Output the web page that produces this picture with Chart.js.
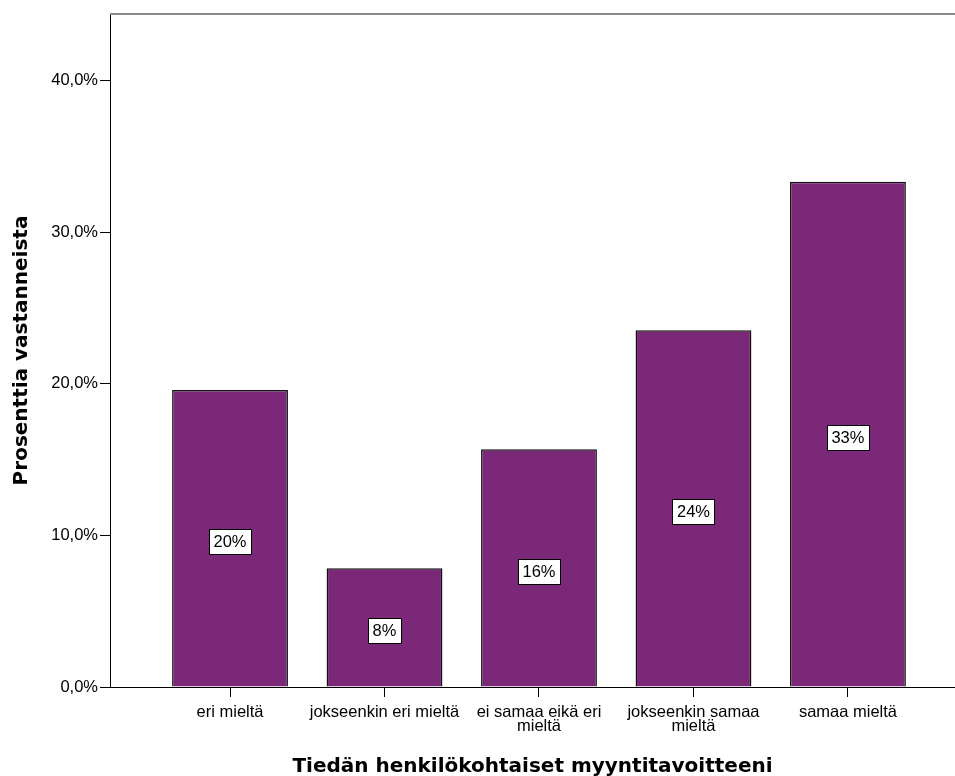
<!DOCTYPE html>
<html>
<head>
<meta charset="utf-8">
<script src="https://cdn.jsdelivr.net/npm/chart.js@4"></script>
<style>
  html, body { margin: 0; padding: 0; background: #fff; }
  #wrap { width: 955px; height: 776px; }
</style>
</head>
<body>
<div id="wrap"><canvas id="c" width="955" height="776"></canvas></div>
<script>
const categories = ['eri mieltä', 'jokseenkin eri mieltä', 'ei samaa eikä eri mieltä', 'jokseenkin samaa mieltä', 'samaa mieltä'];
const xTickLabels = [['eri mieltä'], ['jokseenkin eri mieltä'], ['ei samaa eikä eri', 'mieltä'], ['jokseenkin samaa', 'mieltä'], ['samaa mieltä']];
const percentValues = [19.6, 7.84, 15.69, 23.53, 33.33];
const yTickValues = [0, 10, 20, 30, 40];
const xTitle = 'Tiedän henkilökohtaiset myyntitavoitteeni';
const yTitle = 'Prosenttia vastanneista';

const points = percentValues.map((v, i) => ({ x: i, y: v }));

const labelPlugin = {
  id: 'barLabels',
  afterDatasetsDraw(chart) {
    const ctx = chart.ctx;
    const meta = chart.getDatasetMeta(0);
    ctx.save();
    ctx.font = '16.5px "Liberation Sans", Arial, sans-serif';
    ctx.textAlign = 'center';
    ctx.textBaseline = 'middle';
    meta.data.forEach((bar, i) => {
      const txt = Math.round(percentValues[i]) + '%';
      const cx = bar.x;
      const cy = (bar.y + bar.base) / 2 + 3.5;
      const w = Math.round(ctx.measureText(txt).width + 9);
      const h = 25;
      const bx = Math.round(cx - w / 2) + 0.5;
      const by = Math.round(cy - h / 2) + 0.5;
      ctx.fillStyle = '#fff';
      ctx.fillRect(bx, by, w, h);
      ctx.strokeStyle = '#000';
      ctx.lineWidth = 1;
      ctx.strokeRect(bx, by, w, h);
      ctx.fillStyle = '#000';
      ctx.fillText(txt, cx, cy + 1);
    });
    ctx.restore();
  }
};

const framePlugin = {
  id: 'frame',
  afterDraw(chart) {
    const { ctx, chartArea } = chart;
    ctx.save();
    ctx.strokeStyle = '#8a8a8a';
    ctx.lineWidth = 2;
    ctx.beginPath();
    ctx.moveTo(chartArea.left, chartArea.top);
    ctx.lineTo(chartArea.right, chartArea.top);
    ctx.stroke();
    ctx.restore();
  }
};

new Chart(document.getElementById('c'), {
  type: 'bar',
  data: {
    datasets: [{
      data: points,
      backgroundColor: '#7b2878',
      borderColor: '#111',
      borderWidth: 1.5,
      barPercentage: 0.75,
      categoryPercentage: 1.0
    }]
  },
  options: {
    responsive: false,
    animation: false,
    devicePixelRatio: 1,
    layout: { padding: { top: 14, right: 0, left: 0, bottom: 0 } },
    plugins: {
      legend: { display: false },
      tooltip: { enabled: false }
    },
    scales: {
      x: {
        type: 'linear',
        offset: false,
        min: -0.777,
        max: 4.693,
        afterBuildTicks(scale) {
          scale.ticks = categories.map((c, i) => ({ value: i }));
        },
        afterFit(scale) { scale.height = 89; },
        grid: { offset: false, drawOnChartArea: false, drawTicks: true, tickLength: 10, color: '#000', tickWidth: 1 },
        border: { display: true, color: '#000', width: 1 },
        ticks: {
          autoSkip: false,
          maxRotation: 0,
          padding: 8,
          color: '#000',
          font: { family: '"Liberation Sans", Arial, sans-serif', size: 16.5, lineHeight: 0.86 },
          callback(v) { return Number.isInteger(v) && xTickLabels[v] ? xTickLabels[v] : ''; }
        },
        title: {
          display: true,
          text: xTitle,
          color: '#000',
          font: { family: '"DejaVu Sans", sans-serif', size: 20, weight: 'bold' },
          padding: { top: 0, bottom: -3 }
        }
      },
      y: {
        min: 0,
        max: 44.4,
        afterBuildTicks(scale) {
          scale.ticks = yTickValues.map(v => ({ value: v }));
        },
        afterFit(scale) { scale.width = 110; },
        grid: { drawOnChartArea: false, drawTicks: true, tickLength: 10, color: '#000', tickWidth: 1 },
        border: { display: true, color: '#000', width: 1 },
        ticks: {
          padding: 2,
          color: '#000',
          font: { family: '"Liberation Sans", Arial, sans-serif', size: 16.5 },
          callback(v) { return v.toFixed(1).replace('.', ',') + '%'; }
        },
        title: {
          display: true,
          text: yTitle,
          color: '#000',
          font: { family: '"DejaVu Sans", sans-serif', size: 20, weight: 'bold' },
          padding: { top: 10, bottom: 0 }
        }
      }
    }
  },
  plugins: [labelPlugin, framePlugin]
});
</script>
</body>
</html>
